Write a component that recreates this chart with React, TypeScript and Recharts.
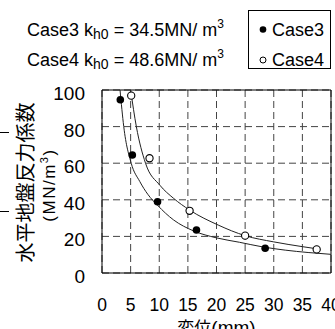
import React from "react";
import {
  ComposedChart,
  Line,
  Scatter,
  XAxis,
  YAxis,
  CartesianGrid,
  ReferenceArea,
  Legend,
  Label,
} from "recharts";

// measured points (displacement mm, k MN/m3)
const case3Disp = [3.2, 5.3, 9.7, 16.5, 28.5];
const case3K = [94.7, 64.5, 38.9, 23.5, 13.5];
const case4Disp = [5.1, 8.3, 15.3, 25, 37.5];
const case4K = [96.9, 62.7, 34, 20.4, 12.9];

// fitted curves
const fit3Disp = [3.15, 3.8, 5.1, 6.6, 8, 9.7, 12.5, 16, 20, 24, 28, 32, 36, 40];
const fit3K = [100, 80, 60, 50, 43, 37, 29, 23, 19.2, 16.8, 14.3, 12.5, 11.2, 10.2];
const fit4Disp = [5.0, 6.0, 7.6, 10.1, 12.5, 15.3, 20.3, 25, 30, 35, 38];
const fit4K = [100, 80, 60, 48, 40.8, 34.4, 26.2, 20.4, 17, 14.4, 13];

const xTicks = [0, 5, 10, 15, 20, 25, 30, 35, 40];
const yTicks = [0, 20, 40, 60, 80, 100];

const zip = (xs: number[], ys: number[]) => xs.map((x, i) => ({ x, y: ys[i] }));
const case3 = zip(case3Disp, case3K);
const case4 = zip(case4Disp, case4K);
const fit3 = zip(fit3Disp, fit3K);
const fit4 = zip(fit4Disp, fit4K);

const FONT = '"Liberation Sans", Arial, sans-serif';
const CJK = '"Noto Sans CJK JP", "Noto Sans CJK SC", sans-serif';

const XTick = ({ x, y, payload }: any) => (
  <text x={x} y={y + 38} textAnchor="middle" fontFamily={FONT} fontSize={17.5} fill="#000">
    {payload.value}
  </text>
);

const YTick = ({ x, y, payload }: any) => (
  <text x={x} y={y + 10} textAnchor="end" fontFamily={FONT} fontSize={19} fill="#000">
    {payload.value}
  </text>
);

const XTitle = ({ viewBox }: any) => {
  const vb = viewBox || { x: 102, y: 273, width: 229, height: 56 };
  const cx = vb.x + vb.width / 2;
  return (
    <text x={cx} y={vb.y + 61} textAnchor="middle" fill="#000">
      <tspan fontFamily={CJK} fontSize={17}>変位</tspan>
      <tspan fontFamily={FONT} fontSize={19}>(mm)</tspan>
    </text>
  );
};

const YTitle = ({ viewBox }: any) => {
  const vb = viewBox || { x: 0, y: 90, width: 102, height: 183 };
  const c1 = vb.y + vb.height / 2 + 1;
  const c2 = vb.y + vb.height / 2 + 3.5;
  return (
    <g>
      <text
        x={24}
        y={c1}
        transform={`rotate(-90, 24, ${c1})`}
        textAnchor="middle"
        dominantBaseline="central"
        fontFamily={CJK}
        fontSize={20}
        fill="#000"
      >
        水平地盤反力係数
      </text>
      <text
        x={55}
        y={c2}
        transform={`rotate(-90, 55, ${c2})`}
        textAnchor="middle"
        fontFamily={FONT}
        fontSize={17}
        letterSpacing={1.5}
        fill="#000"
      >
        (MN/m
        <tspan fontSize={11} dy={-7}>3</tspan>
        <tspan dy={7}>)</tspan>
      </text>
    </g>
  );
};

const FilledDot = ({ cx, cy }: any) => <circle cx={cx} cy={cy} r={3.8} fill="#000" />;
const OpenDot = ({ cx, cy }: any) => (
  <circle cx={cx} cy={cy} r={3.6} fill="#fff" stroke="#000" strokeWidth={1.1} />
);

const LegendBox = () => (
  <svg width={83} height={59} style={{ display: "block" }}>
    <rect x={0.5} y={0.5} width={82} height={58} fill="#fff" stroke="#000" />
    <circle cx={15} cy={19.5} r={3.3} fill="#000" />
    <text x={24} y={26} fontFamily={FONT} fontSize={18} fill="#000">Case3</text>
    <circle cx={15} cy={50} r={3} fill="#fff" stroke="#000" strokeWidth={1} />
    <text x={24} y={55.5} fontFamily={FONT} fontSize={18} fill="#000">Case4</text>
  </svg>
);

export default function App() {
  return (
    <div style={{ position: "absolute", left: 0, top: 0, width: 335, height: 329, background: "#fff" }}>
      <ComposedChart width={335} height={329} margin={{ top: 90, right: 4, bottom: 0, left: 0 }}>
        <CartesianGrid stroke="#444" strokeDasharray="7 4" />
        <XAxis
          type="number"
          dataKey="x"
          domain={[0, 40]}
          ticks={xTicks}
          interval={0}
          height={56}
          tickSize={0}
          tickMargin={0}
          axisLine={false}
          tick={XTick}
          allowDataOverflow
        >
          <Label content={XTitle} />
        </XAxis>
        <YAxis
          type="number"
          domain={[0, 100]}
          ticks={yTicks}
          interval={0}
          width={102}
          tickSize={0}
          tickMargin={17}
          axisLine={false}
          tick={YTick}
          allowDataOverflow
        >
          <Label content={YTitle} />
        </YAxis>
        <ReferenceArea x1={0} x2={40} y1={0} y2={100} fill="none" fillOpacity={0} stroke="#000" strokeWidth={1} />
        <Line data={fit3} dataKey="y" type="monotone" stroke="#222" strokeWidth={1} dot={false} legendType="none" isAnimationActive={false} />
        <Line data={fit4} dataKey="y" type="monotone" stroke="#222" strokeWidth={1} dot={false} legendType="none" isAnimationActive={false} />
        <Scatter name="Case3" data={case3} dataKey="y" fill="#000" shape={FilledDot} isAnimationActive={false} />
        <Scatter name="Case4" data={case4} dataKey="y" fill="#fff" shape={OpenDot} isAnimationActive={false} />
        <Legend
          layout="vertical"
          align="center"
          verticalAlign="middle"
          content={LegendBox}
          wrapperStyle={{ left: 248, top: 10, width: 83, height: 59 }}
        />
      </ComposedChart>
      <svg width={240} height={80} style={{ position: "absolute", left: 0, top: 0, pointerEvents: "none" }}>
        <text x={27} y={36} fontFamily={FONT} fontSize={18} fill="#000">
          Case3 k<tspan fontSize={14} dy={2.5}>h0</tspan>
          <tspan dy={-2.5}> = 34.5MN/ m</tspan>
          <tspan fontSize={12} dy={-8}>3</tspan>
        </text>
        <text x={27} y={66} fontFamily={FONT} fontSize={18} fill="#000">
          Case4 k<tspan fontSize={14} dy={2.5}>h0</tspan>
          <tspan dy={-2.5}> = 48.6MN/ m</tspan>
          <tspan fontSize={12} dy={-8}>3</tspan>
        </text>
      </svg>
      <div style={{ position: "absolute", left: 0, top: 132, width: 9, height: 1, background: "#000" }} />
      <div style={{ position: "absolute", left: 0, top: 211, width: 9, height: 1, background: "#000" }} />
    </div>
  );
}
